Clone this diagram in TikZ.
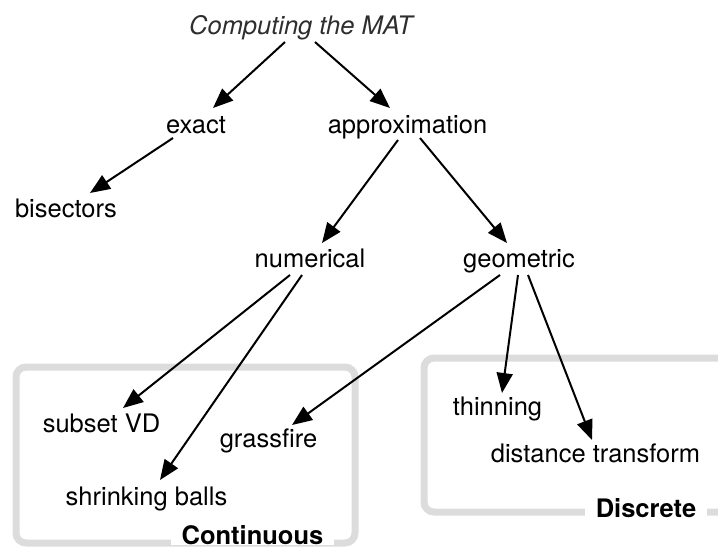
\documentclass[tikz,border=0pt]{standalone}
\usepackage{fontspec}
\setmainfont{TeX Gyre Heros}
\usetikzlibrary{arrows.meta,calc}
\definecolor{framegray}{HTML}{DCDCDC}
\definecolor{titlegray}{HTML}{2E2E2E}
\tikzset{
  lbl/.style={anchor=base, inner sep=0pt, font=\fontsize{25.5}{30}\selectfont},
  ttl/.style={lbl, font=\fontsize{25.5}{30}\selectfont\itshape, text=titlegray},
  grp/.style={anchor=base, inner xsep=11pt, inner ysep=0pt, text depth=0pt,
    fill=white, font=\fontsize{25.5}{30}\selectfont\bfseries},
  frame/.style={draw=framegray, line width=7pt, rounded corners=10pt},
  link/.style={line width=2pt, -{Triangle[length=20pt,width=16pt]}}
}
\begin{document}
\begin{tikzpicture}[x=1pt,y=-1pt]
  \useasboundingbox (0,0) rectangle (718,550);
  \clip (0,0) rectangle (718,550);

  % group frames
  \draw[frame] (16,367) rectangle (355,543);
  \draw[frame] (424,358) rectangle (760,512);

  % labels
  \node[ttl] (mat)   at (301,34)    {Computing the MAT};
  \node[lbl] (exact) at (196,133)   {exact};
  \node[lbl] (appr)  at (407.5,133) {approximation};
  \node[lbl] (bis)   at (66,217)    {bisectors};
  \node[lbl] (num)   at (310,267)   {numerical};
  \node[lbl] (geo)   at (519,267)   {geometric};
  \node[lbl] (svd)   at (101.5,432) {subset VD};
  \node[lbl] (grass) at (268.5,447) {grassfire};
  \node[lbl] (shrink) at (146.5,505) {shrinking balls};
  \node[lbl] (thin)  at (497.5,415) {thinning};
  \node[lbl] (dist)  at (595.5,462) {distance transform};

  \node[grp] (cont)  at (252.5,544.5) {Continuous};
  \node[grp] (disc)  at (646,517)   {Discrete};

  % connectors
  \draw[link] ($(mat.base)+(-16,8)$)    -- ($(exact.base)+(17,-25)$);
  \draw[link] ($(mat.base)+(14,8)$)     -- ($(appr.base)+(-17.5,-25)$);
  \draw[link] ($(exact.base)+(-23,5)$)  -- ($(bis.base)+(24,-24)$);
  \draw[link] ($(appr.base)+(-9.5,7)$)  -- ($(num.base)+(12,-24)$);
  \draw[link] ($(appr.base)+(12.5,5)$)  -- ($(geo.base)+(-12,-24)$);
  \draw[link] ($(num.base)+(-20,8)$)    -- ($(svd.base)+(21.5,-24)$);
  \draw[link] ($(num.base)+(-8,8)$)     -- ($(shrink.base)+(13.5,-25)$);
  \draw[link] ($(geo.base)+(-19,8)$)    -- ($(grass.base)+(23.5,-22)$);
  \draw[link] ($(geo.base)+(-1,8)$)     -- ($(thin.base)+(4.5,-22)$);
  \draw[link] ($(geo.base)+(9,8)$)      -- ($(dist.base)+(-3.5,-22)$);
\end{tikzpicture}
\end{document}
